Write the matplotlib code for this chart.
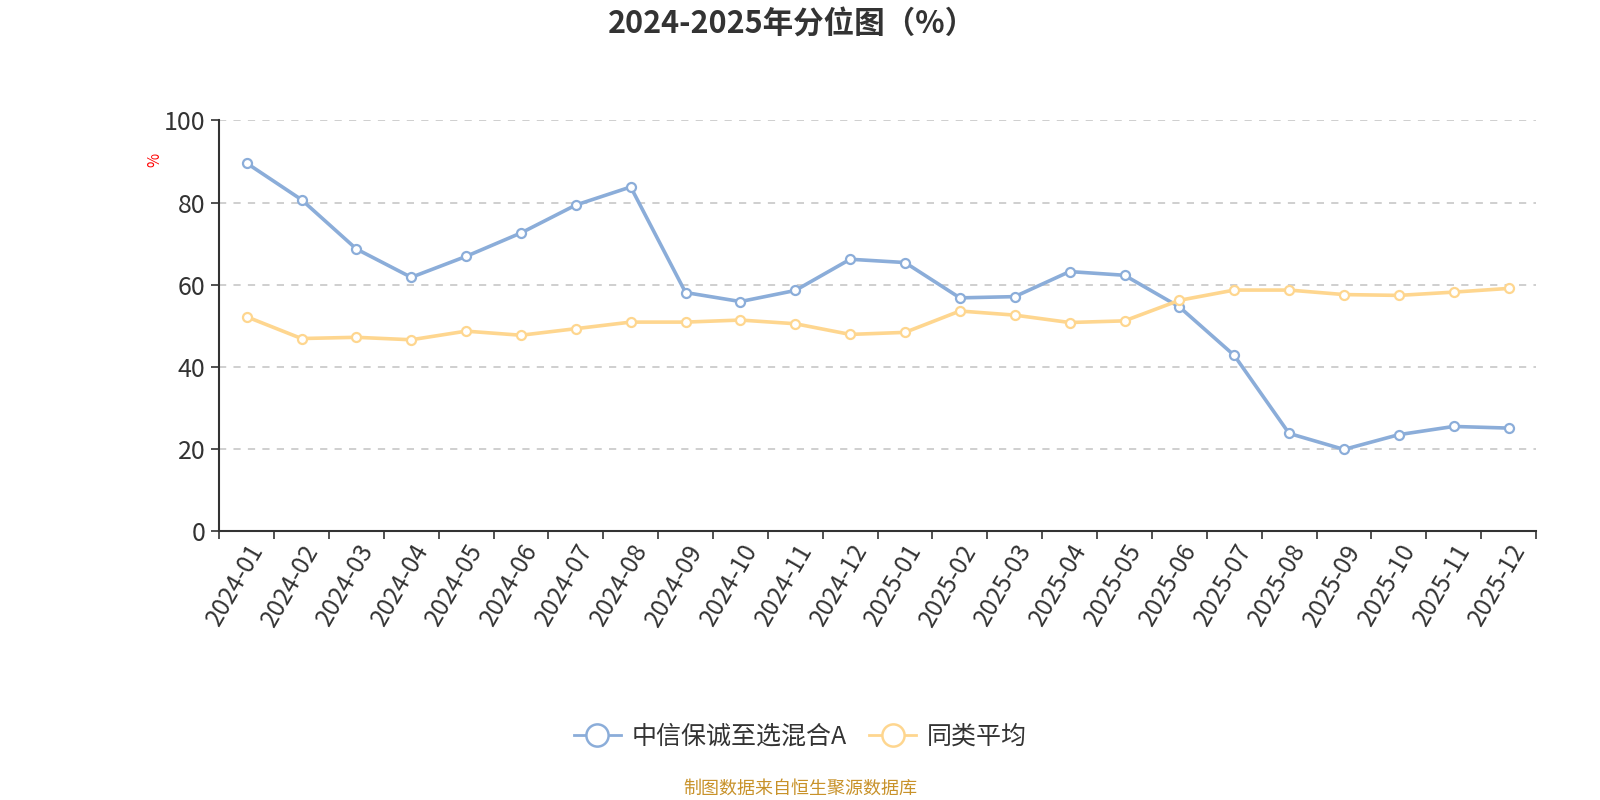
import matplotlib.pyplot as plt
from matplotlib.lines import Line2D
import numpy as np

plt.rcParams['font.family'] = ['Noto Sans CJK SC', 'DejaVu Sans']

months = ['2024-01', '2024-02', '2024-03', '2024-04', '2024-05', '2024-06',
          '2024-07', '2024-08', '2024-09', '2024-10', '2024-11', '2024-12',
          '2025-01', '2025-02', '2025-03', '2025-04', '2025-05', '2025-06',
          '2025-07', '2025-08', '2025-09', '2025-10', '2025-11', '2025-12']
fund = [89.6, 80.7, 68.7, 61.8, 66.9, 72.6, 79.4, 83.8, 58.1, 55.9, 58.6, 66.2,
        65.4, 56.8, 57.1, 63.2, 62.3, 54.6, 42.8, 23.8, 19.9, 23.5, 25.5, 25.1]
peer = [52.2, 46.9, 47.2, 46.6, 48.7, 47.7, 49.3, 50.9, 50.9, 51.4, 50.5, 47.9,
        48.4, 53.6, 52.6, 50.8, 51.2, 56.2, 58.7, 58.7, 57.6, 57.4, 58.2, 59.1]
fund_name = '中信保诚至选混合A'
peer_name = '同类平均'

blue = '#8badd9'
yellow = '#fed68f'
dark = '#333333'

fig = plt.figure(figsize=(16, 8), dpi=100)
ax = fig.add_axes([0.137, 0.336, 0.823, 0.5135])

x = np.arange(len(months))
for vals, c in [(fund, blue), (peer, yellow)]:
    ax.plot(x, vals, color=c, lw=2.6, marker='o', ms=6.5, mfc='white',
            mec=c, mew=1.6, zorder=3)

ax.set_xlim(-0.5, len(months) - 0.5)
ax.set_ylim(0, 100)
ax.set_yticks([0, 20, 40, 60, 80, 100])
ax.set_xticks(np.arange(len(months) + 1) - 0.5, minor=False)
ax.set_xticklabels([])
ax.set_xticks(x, minor=True)
ax.set_xticklabels(months, minor=True, rotation=60, ha='right',
                   rotation_mode='anchor', fontsize=17.5, color=dark)
ax.tick_params(axis='x', which='minor', length=0, pad=6)
ax.tick_params(axis='x', which='major', length=6, width=1.2, color=dark)
ax.tick_params(axis='y', length=6, width=1.2, color=dark, labelsize=18,
               labelcolor=dark, pad=4)

for v in [20, 40, 60, 80, 100]:
    ax.axhline(v, color='#cccccc', lw=1.3, ls=(0, (4, 4)), zorder=1)

for s in ['top', 'right']:
    ax.spines[s].set_visible(False)
ax.spines['left'].set_color(dark)
ax.spines['bottom'].set_color(dark)
ax.spines['left'].set_linewidth(1.5)
ax.spines['bottom'].set_linewidth(1.5)

fig.text(0.097, 0.8, '%', color='red', fontsize=11, rotation=90,
         ha='center', va='center')

fig.text(0.495, 0.971, '2024-2025年分位图（%）', fontsize=22, fontweight='bold',
         color=dark, ha='center', va='center')

handles = [Line2D([], [], color=c, lw=2, marker='o', ms=16, mfc='white',
                  mec=c, mew=1.8) for c in (blue, yellow)]
fig.legend(handles, [fund_name, peer_name], loc='center',
           bbox_to_anchor=(0.5, 0.079), ncol=2, frameon=False, fontsize=18,
           handlelength=1.9, columnspacing=0.9, handletextpad=0.4,
           labelcolor=dark)

fig.text(0.5, 0.014, '制图数据来自恒生聚源数据库', fontsize=13, color='#c8922a',
         ha='center', va='center')

fig.savefig('out.png', dpi=100)
